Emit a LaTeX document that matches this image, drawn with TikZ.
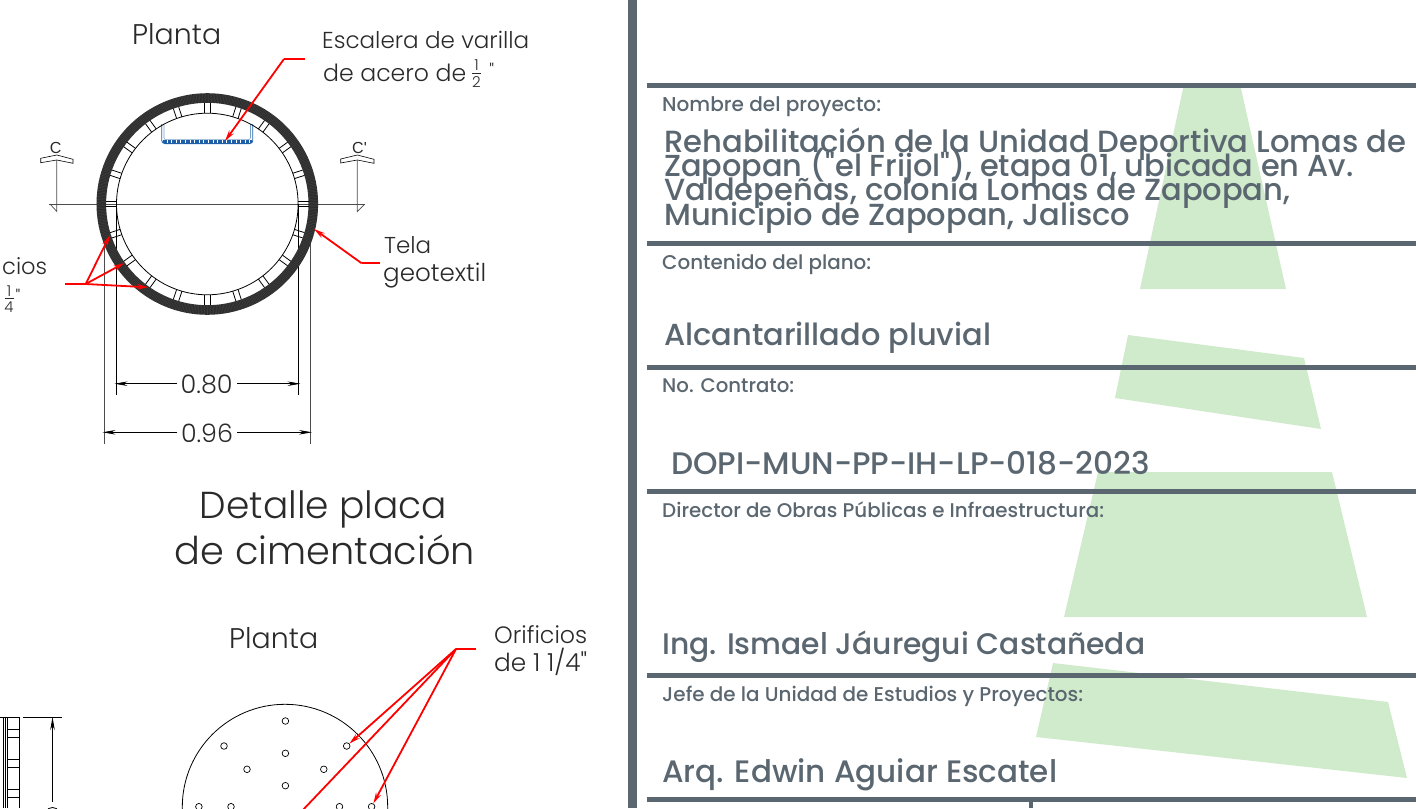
\documentclass[tikz,border=0pt]{standalone}
\usepackage{fontspec}
\usepackage{graphicx}
\setmainfont{Poppins}
\newfontfamily\thinf{Poppins Light}
\newfontfamily\medf{Poppins Medium}
\newfontfamily\arialf{Liberation Sans}
\usetikzlibrary{arrows.meta}
\definecolor{slate}{HTML}{5B6770}
\definecolor{leaf}{HTML}{D0EBCB}
\definecolor{inkk}{HTML}{2A2A2A}
\definecolor{ladder}{HTML}{1F5FA8}
\newcommand{\fitw}[2]{\resizebox{#1pt}{!}{#2}}
\tikzset{
  rule/.style={fill=slate,draw=none},
  patch/.style={fill=leaf,draw=none},
  lbl/.style={inner sep=0pt,anchor=base west,text=slate,font=\medf},
  thin lbl/.style={inner sep=0pt,anchor=base west,text=inkk,font=\thinf},
  thin mid/.style={inner sep=0pt,anchor=base,text=inkk,font=\thinf},
  frac digit/.style={inner sep=0pt,anchor=base,text=inkk,font=\thinf\fontsize{15}{15}\selectfont},
  quote mark/.style={inner sep=0pt,anchor=base,text=inkk,font=\thinf\fontsize{18}{18}\selectfont},
  sec letter/.style={inner sep=0pt,anchor=base,text=inkk,font=\arialf\fontsize{16}{16}\selectfont},
  red lead/.style={draw=red,line width=1.8pt},
  red tip/.style={red lead,-{Stealth[length=11pt,width=5.5pt]}},
  dim/.style={draw=black,line width=.7pt,-{Stealth[length=13pt,width=4.5pt]}},
  ext/.style={draw=black!70,line width=.7pt},
  hole/.style={draw=black,line width=.7pt,fill=white,circle,minimum size=6.6pt,inner sep=0pt},
}
\begin{document}
\begin{tikzpicture}[x=1pt,y=-1pt]
\useasboundingbox (0,0) rectangle (1418,808);
\clip (0,0) rectangle (1418,808);
% green patches
\fill[patch] (1184,84)--(1240,84)--(1286,289)--(1140,289)--cycle;
\fill[patch] (1128,335)--(1304,358)--(1321,429)--(1115,398)--cycle;
\fill[patch] (1098,472)--(1332,472)--(1367,617)--(1064,617)--cycle;
\fill[patch] (1053,663)--(1388,702)--(1407,778)--(1036,737)--cycle;
% right panel rules
\fill[rule] (628,0) rectangle (636.5,808);
\foreach \yy in {83.3,241,365,489,673.3,797}
  \fill[rule] (647,\yy) rectangle (1416,\yy+4.7);
\fill[rule] (1028.5,801) rectangle (1033,808);
% right panel text
\node[lbl] (t1) at (662,111) {\fitw{219}{Nombre del proyecto:}};
\node[lbl] (t2) at (664,152) {\fitw{742}{Rehabilitación de la Unidad Deportiva Lomas de}};
\node[lbl] (t3) at (664,176.7) {\fitw{689}{Zapopan ("el Frijol"), etapa 01, ubicada en Av.}};
\node[lbl] (t4) at (664,200.5) {\fitw{626}{Valdepeñas, colonia Lomas de Zapopan,}};
\node[lbl] (t5) at (664,225) {\fitw{466}{Municipio de Zapopan, Jalisco}};
\node[lbl] (t6) at (662,269) {\fitw{209}{Contenido del plano:}};
\node[lbl] (t7) at (664,345) {\fitw{327}{Alcantarillado pluvial}};
\node[lbl] (t8) at (662,392) {\fitw{132}{No. Contrato:}};
\node[lbl] (t9) at (671,474) {\fitw{479}{DOPI-MUN-PP-IH-LP-018-2023}};
\node[lbl] (t10) at (662,517) {\fitw{442}{Director de Obras Públicas e Infraestructura:}};
\node[lbl] (t11) at (662,654) {\fitw{483}{Ing. Ismael Jáuregui Castañeda}};
\node[lbl] (t12) at (662,701) {\fitw{421}{Jefe de la Unidad de Estudios y Proyectos:}};
\node[lbl] (t13) at (662,782) {\fitw{395}{Arq. Edwin Aguiar Escatel}};
% ladder
\draw[ladder,line width=.8pt,rounded corners=3pt] (161.8,124)--(161.8,143.6)--(252.8,143.6)--(252.8,124);
\draw[ladder!60,line width=.6pt,rounded corners=2pt] (164,124)--(164,139.6)--(250.5,139.6)--(250.5,124);
\draw[ladder,line width=3.2pt,dash pattern=on 3.6pt off 1pt] (163,141.6)--(251.8,141.6);
% section + dimension extension lines (behind the ring)
\coordinate (sL) at (49,204); \coordinate (sR) at (365,204);
\draw[ext] (sL)--(sR);
\draw[ext] (104.6,240)--(104.6,444);
\draw[draw=black,line width=.8pt] (116.6,204)--(116.6,395);
\draw[draw=black,line width=.8pt] (298.3,204)--(298.3,395);
\draw[ext] (310,240)--(310,444);
% pipe
\draw[inkk,line width=9.6pt] (207.3,204) circle[radius=106pt];
\draw[white,opacity=.1,line width=9.6pt,dash pattern=on .5pt off 1pt] (207.3,204) circle[radius=106pt];
\draw[black,line width=.8pt] (207.3,204) circle[radius=90.8pt];
\foreach \a in {0,18,...,342}
  \draw[black,line width=.8pt,shift={(207.3,204)},rotate=\a] (90.8pt,-2.8pt)--(101.2pt,-2.8pt) (90.8pt,2.8pt)--(101.2pt,2.8pt);
% section markers
\draw[ext] (56.8,160)--(56.8,211.5)--(50,204);
\draw[ext] (357.3,160)--(357.3,211.5)--(365,204);
\draw[black,line width=.6pt,fill=white] (40.7,158.3)--(56.8,155)--(73,159.3)--(73,163.3)--(56.8,160)--(40.7,162.7)--cycle;
\draw[black,line width=.6pt,fill=white] (340.7,159)--(357.3,155)--(374,159.3)--(374,163.3)--(357.3,160)--(340.7,163)--cycle;
\node[sec letter] (cl) at (55.7,153.5) {C};
\node[sec letter] (cr) at (359.5,153.5) {C'};
% dimensions
\node[thin mid] (d80) at (206.7,393) {\fitw{52}{0.80}};
\node[thin mid] (d96) at (207,442) {\fitw{52}{0.96}};
\coordinate (a1) at (114.5,383.7); \coordinate (a2) at (300.5,383.7);
\coordinate (a3) at (102.5,432.3); \coordinate (a4) at (312,432.3);
\coordinate (b1) at (177,383.7); \coordinate (b2) at (237,383.7);
\coordinate (b3) at (177,432.3); \coordinate (b4) at (237,432.3);
\draw[dim] (b1)--(a1);
\draw[dim] (b2)--(a2);
\draw[dim] (b3)--(a3);
\draw[dim] (b4)--(a4);
% titles and labels
\node[thin lbl] (p1) at (132,45) {\fitw{89}{Planta}};
\node[thin lbl] (e1) at (322,48.3) {\fitw{207}{Escalera de varilla}};
\node[thin lbl] (e2) at (323,81.7) {\fitw{143}{de acero de}};
\node[frac digit] (fa) at (476.5,70.5) {1};
\node[frac digit] (fb) at (476.5,88) {2};
\node[quote mark] (fq) at (491.7,77.6) {"};
\draw[inkk,line width=.8pt] (472,73.5)--(481,73.5);
\node[thin lbl] (g1) at (384,253) {\fitw{47}{Tela}};
\node[thin lbl] (g2) at (383,281) {\fitw{103}{geotextil}};
\node[thin lbl] (o1) at (2,274) {\fitw{45}{cios}};
\node[frac digit] (ga) at (9,296.7) {1};
\node[frac digit] (gb) at (9,312.7) {4};
\node[quote mark] (gq) at (18,303.6) {"};
\draw[inkk,line width=.8pt] (5,298.5)--(13.5,298.5);
\node[thin mid] (dp1) at (323.5,518) {\fitw{247}{Detalle placa}};
\node[thin mid] (dp2) at (325,564) {\fitw{300}{de cimentación}};
\node[thin lbl] (p2) at (229,648) {\fitw{89}{Planta}};
\node[thin lbl] (o2) at (494,643.5) {\fitw{93}{Orificios}};
\node[thin lbl] (o3) at (494,671.7) {\fitw{93}{de 1 1/4"}};
% red leaders
\coordinate (l1a) at (305,59); \coordinate (l1b) at (284,59); \coordinate (l1c) at (225,141);
\draw[red lead] (l1a)--(l1b);
\draw[red tip] (l1b)--(l1c);
\coordinate (l2a) at (380,263.3); \coordinate (l2b) at (361.7,263.3); \coordinate (l2c) at (314,229);
\draw[red lead] (l2a)--(l2b);
\draw[red tip] (l2b)--(l2c);
\coordinate (l3a) at (65,284); \coordinate (l3b) at (85.7,284);
\coordinate (l3c) at (110,235); \coordinate (l3d) at (124.3,263); \coordinate (l3e) at (148.3,287.3);
\draw[red lead] (l3a)--(l3b);
\draw[red tip] (l3b)--(l3c);
\draw[red tip] (l3b)--(l3d);
\draw[red tip] (l3b)--(l3e);
% plate
\draw[black,line width=.8pt] (285,807) circle[radius=102.7pt];
\foreach \n/\px/\py in {a/285.4/721,b/224/746,c/346.7/746,d/285.4/753.3,e/247/769.3,f/323.8/769.3,g/285.4/785.7,h/198.9/806.7,i/231/806.7,j/339.5/806.7,k/371.6/806.7}
  \node[hole] (h\n) at (\px,\py) {};
\coordinate (l4a) at (476,649); \coordinate (l4b) at (456,649);
\coordinate (l4c) at (300,813);
\draw[red lead] (l4a)--(l4b);
\draw[red tip] (l4b)--(hc);
\draw[red lead] (l4b)--(l4c);
\draw[red tip] (l4b)--(hk);
% partial side view bottom left
\draw[black,line width=.7pt] (0,717)--(19,717)--(19,808);
\foreach \xx in {3.8,5.8,7}
  \draw[black,line width=.7pt] (\xx,717)--(\xx,808);
\foreach \yy in {729,737,759,767,789,797}
  \draw[black,line width=.7pt] (7,\yy)--(19,\yy);
\coordinate (dA) at (23,717); \coordinate (dB) at (62,717);
\coordinate (dC) at (52.5,801.7); \coordinate (dD) at (52.5,717);
\draw[black,line width=.7pt] (dA)--(dB);
\draw[dim] (dC)--(dD);
\draw[black,line width=.8pt] (47,811) arc[start angle=180,end angle=0,x radius=5.5pt,y radius=3.5pt];
\end{tikzpicture}
\end{document}
